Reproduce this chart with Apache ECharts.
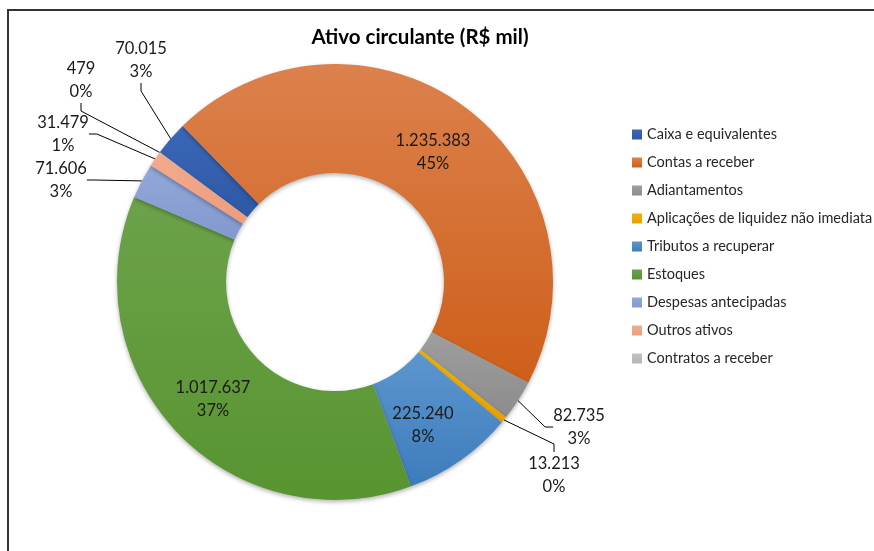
<!DOCTYPE html>
<html>
  <head>
    <meta charset="utf-8" />
    <title>Ativo circulante (R$ mil)</title>
    <script src="https://cdn.jsdelivr.net/npm/echarts@6/dist/echarts.min.js"></script>
    <style>
      body { margin: 0; background: #fff; overflow: hidden; }
      #frame {
        position: absolute; left: 7px; top: 9px;
        width: 900px; height: 600px;
        border: 2px solid #333; box-sizing: border-box;
      }
      #main { position: absolute; left: 0; top: 0; width: 874px; height: 551px; }
    </style>
  </head>
  <body>
    <div id="frame"></div>
    <div id="main"></div>

    <script type="text/javascript">
      // dados (R$ mil)
      var categories = [
        "Caixa e equivalentes",
        "Contas a receber",
        "Adiantamentos",
        "Aplicações de liquidez não imediata",
        "Tributos a recuperar",
        "Estoques",
        "Despesas antecipadas",
        "Outros ativos",
        "Contratos a receber",
      ];
      var values = [70015, 1235383, 82735, 13213, 225240, 1017637, 71606, 31479, 479];

      // cores (topo -> base, estilo gradiente do Excel)
      var colorTop = ["#3A67B6", "#DC814D", "#9E9E9E", "#EFB000", "#5C96CE", "#6CA24A", "#93A8D9", "#F3AC8E", "#C2C2C2"];
      var colorBottom = ["#2D58A6", "#CE5F19", "#8C8C8C", "#E5A300", "#3D7CBC", "#589430", "#8299CF", "#EE9C7C", "#B5B5B5"];

      // rótulos dentro da rosca
      var insideIdx = [1, 4, 5];
      // posição dos rótulos (centro do bloco de texto)
      var labelPos = {
        0: [141, 60],
        1: [433, 152],
        2: [579, 427],
        3: [554, 475],
        4: [423, 425],
        5: [213, 399],
        6: [61, 180],
        7: [63, 134],
        8: [81, 80],
      };

      function fmt(v) {
        return String(v).replace(/\B(?=(\d{3})+(?!\d))/g, ".");
      }

      var chartDom = document.getElementById("main");
      var myChart = echarts.init(chartDom);
      var option;

      var seriesData = [];
      for (var i = 0; i < categories.length; i++) {
        var inside = insideIdx.indexOf(i) >= 0;
        seriesData.push({
          name: categories[i],
          value: values[i],
          itemStyle: {
            color: new echarts.graphic.LinearGradient(0, 0, 0, 1, [
              { offset: 0, color: colorTop[i] },
              { offset: 1, color: colorBottom[i] },
            ]),
          },
          label: { position: inside ? "inside" : "outside" },
          labelLine: { show: !inside },
        });
      }

      option = {
        animation: false,
        title: {
          text: "Ativo circulante (R$ mil)",
          left: 415,
          top: 22,
          textAlign: "center",
          textStyle: {
            fontFamily: "Lato",
            fontWeight: "bold",
            fontSize: 20.5,
            color: "#000",
          },
        },
        legend: {
          orient: "vertical",
          left: 627,
          top: 122,
          itemWidth: 10,
          itemHeight: 10,
          itemGap: 13,
          icon: "rect",
          data: categories,
          textStyle: {
            fontFamily: "Lato",
            fontSize: 14.5,
            color: "#262626",
          },
        },
        series: [
          {
            type: "pie",
            center: [335, 282],
            radius: [109, 218],
            startAngle: 143.5,
            clockwise: true,
            avoidLabelOverlap: false,
            itemStyle: {
              shadowBlur: 4,
              shadowColor: "rgba(0,0,0,0.3)",
              shadowOffsetY: 2,
            },
            label: {
              formatter: function (p) {
                return fmt(p.value) + "\n" + Math.round(p.percent) + "%";
              },
              fontFamily: "Lato",
              fontSize: 16.5,
              lineHeight: 23,
              color: "#1a1a1a",
            },
            labelLine: {
              length: 10,
              length2: 8,
              lineStyle: { color: "#000", width: 1 },
            },
            labelLayout: function (p) {
              var pos = labelPos[p.dataIndex];
              if (!pos) return {};
              return { x: pos[0], y: pos[1], align: "center", verticalAlign: "middle" };
            },
            emphasis: { disabled: true },
            data: seriesData,
          },
        ],
      };

      option && myChart.setOption(option);
    </script>
  </body>
</html>
